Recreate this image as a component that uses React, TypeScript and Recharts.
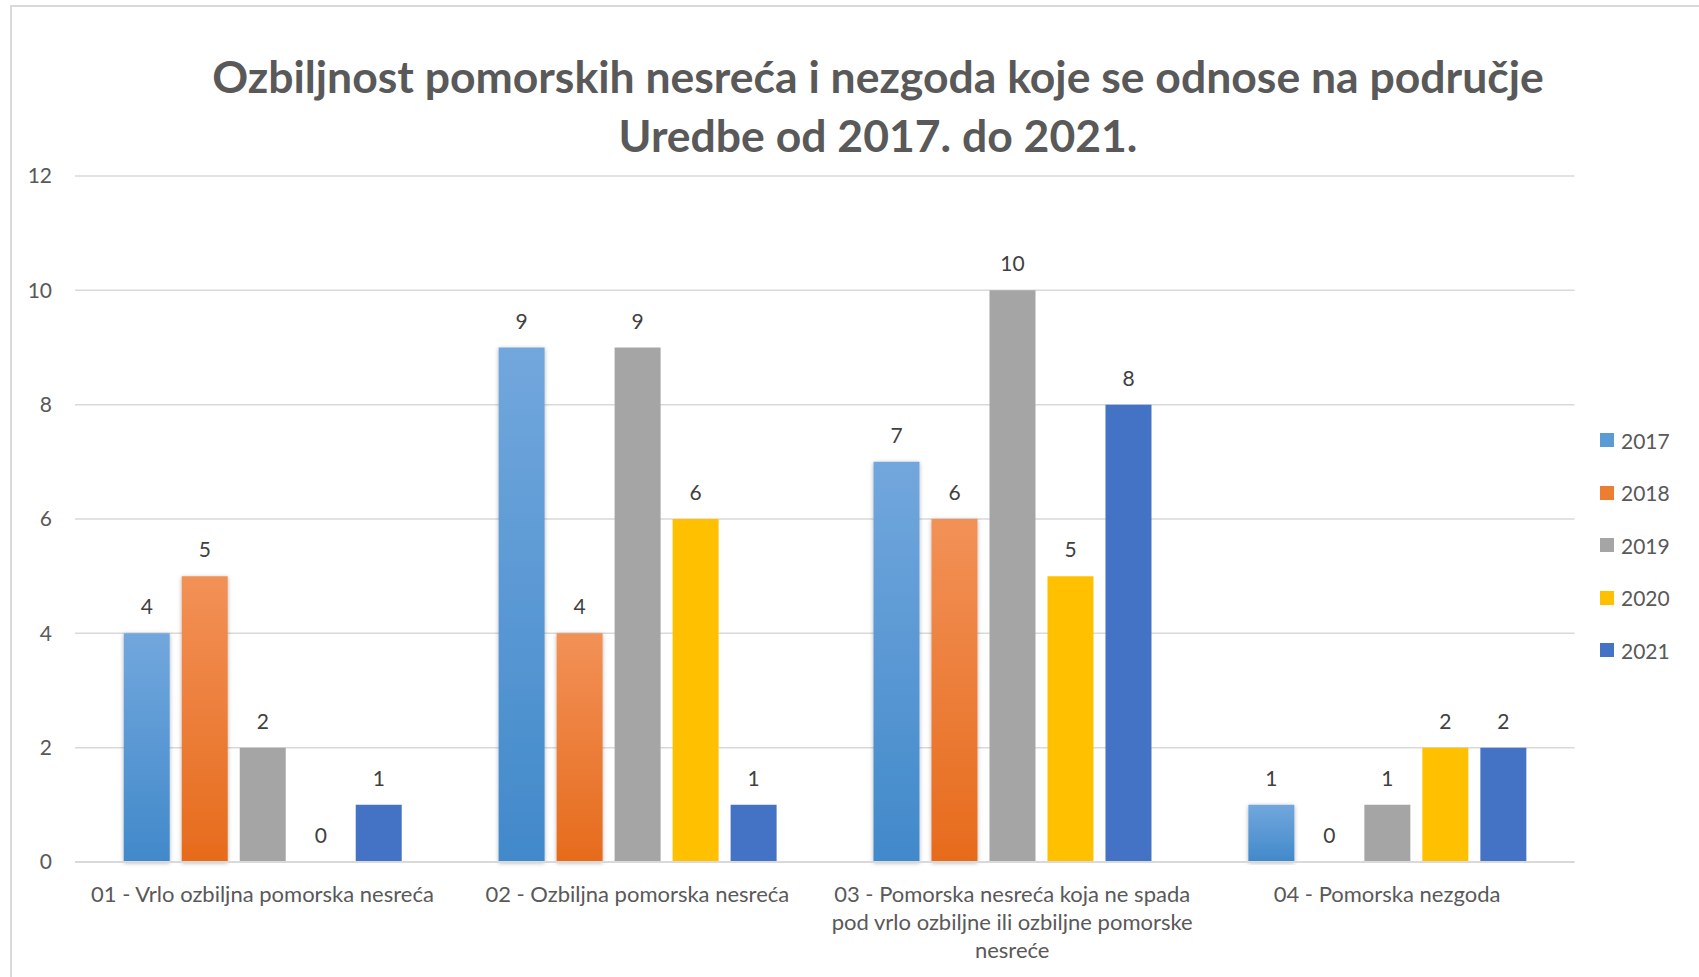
import React from 'react';
import { BarChart, Bar, XAxis, YAxis, CartesianGrid, Legend, LabelList } from 'recharts';

const categories = [
  '01 - Vrlo ozbiljna pomorska nesreća',
  '02 - Ozbiljna pomorska nesreća',
  '03 - Pomorska nesreća koja ne spada pod vrlo ozbiljne ili ozbiljne pomorske nesreće',
  '04 - Pomorska nezgoda',
];
// how the axis labels break into lines
const categoryLines = [
  ['01 - Vrlo ozbiljna pomorska nesreća'],
  ['02 - Ozbiljna pomorska nesreća'],
  ['03 - Pomorska nesreća koja ne spada', 'pod vrlo ozbiljne ili ozbiljne pomorske', 'nesreće'],
  ['04 - Pomorska nezgoda'],
];

const values2017 = [4, 9, 7, 1];
const values2018 = [5, 4, 6, 0];
const values2019 = [2, 9, 10, 1];
const values2020 = [0, 6, 5, 2];
const values2021 = [1, 1, 8, 2];

const yTicks = [0, 2, 4, 6, 8, 10, 12];

const series = [
  { key: '2017', fill: 'url(#grad2017)', swatch: '#5b9bd5', shadow: true },
  { key: '2018', fill: 'url(#grad2018)', swatch: '#ed7d31', shadow: true },
  { key: '2019', fill: '#a5a5a5', swatch: '#a5a5a5', shadow: false },
  { key: '2020', fill: '#ffc000', swatch: '#ffc000', shadow: false },
  { key: '2021', fill: '#4472c4', swatch: '#4472c4', shadow: false },
];

const data = categories.map((name, i) => ({
  name,
  '2017': values2017[i],
  '2018': values2018[i],
  '2019': values2019[i],
  '2020': values2020[i],
  '2021': values2021[i],
}));

const FONT = 'Lato, "Open Sans", sans-serif';

const CategoryTick = (props: any) => {
  const { x, y, payload } = props;
  const lines = categoryLines[payload.index] ?? [payload.value];
  return (
    <text x={x} y={y} textAnchor="middle" fill="#595959" fontSize={22} fontFamily={FONT} dominantBaseline="central">
      {lines.map((l, i) => (
        <tspan key={i} x={x} dy={i === 0 ? 31 : 28}>
          {l}
        </tspan>
      ))}
    </text>
  );
};

const LegendContent = () => (
  <div style={{ fontFamily: FONT, fontSize: 21, color: '#595959' }}>
    {series.map((s) => (
      <div key={s.key} style={{ display: 'flex', alignItems: 'center', height: 52.5 }}>
        <span style={{ width: 14, height: 14, background: s.swatch, marginRight: 7, display: 'inline-block' }} />
        <span>{s.key}</span>
      </div>
    ))}
  </div>
);

// zero values still get their "0" label, so give them a hairline height
const zeroSize = (value: any) => (value === 0 ? 0.01 : 0);

export default function App() {
  return (
    <div style={{ position: 'absolute', left: 0, top: 0, width: 1699, height: 977, background: '#fff', overflow: 'hidden' }}>
      <div
        style={{
          position: 'absolute',
          left: 10,
          top: 5,
          width: 1720,
          height: 1000,
          border: '2px solid #d9d9d9',
        }}
      />
      <div
        style={{
          position: 'absolute',
          left: 0,
          width: 1756,
          top: 47,
          textAlign: 'center',
          fontFamily: FONT,
          fontWeight: 700,
          fontSize: 44.5,
          lineHeight: '58.5px',
          color: '#595959',
        }}
      >
        Ozbiljnost pomorskih nesreća i nezgoda koje se odnose na područje
        <br />
        Uredbe od 2017. do 2021.
      </div>
      <div style={{ position: 'absolute', left: 0, top: 0 }}>
        <BarChart
          width={1699}
          height={977}
          data={data}
          margin={{ top: 176, right: 34.5, bottom: 15, left: 15 }}
          barCategoryGap="13%"
          barGap={12}
        >
          <defs>
            <linearGradient id="grad2017" x1="0" y1="0" x2="0" y2="1">
              <stop offset="0%" stopColor="#72a7dd" />
              <stop offset="100%" stopColor="#4189ca" />
            </linearGradient>
            <linearGradient id="grad2018" x1="0" y1="0" x2="0" y2="1">
              <stop offset="0%" stopColor="#f29157" />
              <stop offset="100%" stopColor="#e66b1c" />
            </linearGradient>
            <filter id="barShadow" x="-20%" y="-5%" width="140%" height="110%">
              <feDropShadow dx="0" dy="1" stdDeviation="2" floodColor="#000" floodOpacity="0.3" />
            </filter>
          </defs>
          <CartesianGrid vertical={false} stroke="#d9d9d9" strokeWidth={1.5} />
          <XAxis
            dataKey="name"
            axisLine={{ stroke: '#d9d9d9', strokeWidth: 2 }}
            tickLine={false}
            tickSize={0}
            tickMargin={0}
            height={100}
            interval={0}
            tick={<CategoryTick />}
          />
          <YAxis
            domain={[0, 12]}
            ticks={yTicks}
            axisLine={false}
            tickLine={false}
            tickSize={0}
            tickMargin={23}
            width={60}
            tick={{ fill: '#595959', fontSize: 21, fontFamily: FONT }}
          />
          <Legend
            layout="vertical"
            align="right"
            verticalAlign="middle"
            content={<LegendContent />}
            wrapperStyle={{ position: 'absolute', left: 1600, top: 414, width: 90 }}
          />
          {series.map((s) => (
            <Bar
              key={s.key}
              dataKey={s.key}
              fill={s.fill}
              isAnimationActive={false}
              minPointSize={zeroSize}
              filter={s.shadow ? 'url(#barShadow)' : undefined}
            >
              <LabelList
                dataKey={s.key}
                position="top"
                offset={19}
                fill="#404040"
                fontSize={21}
                fontFamily={FONT}
              />
            </Bar>
          ))}
        </BarChart>
      </div>
    </div>
  );
}
